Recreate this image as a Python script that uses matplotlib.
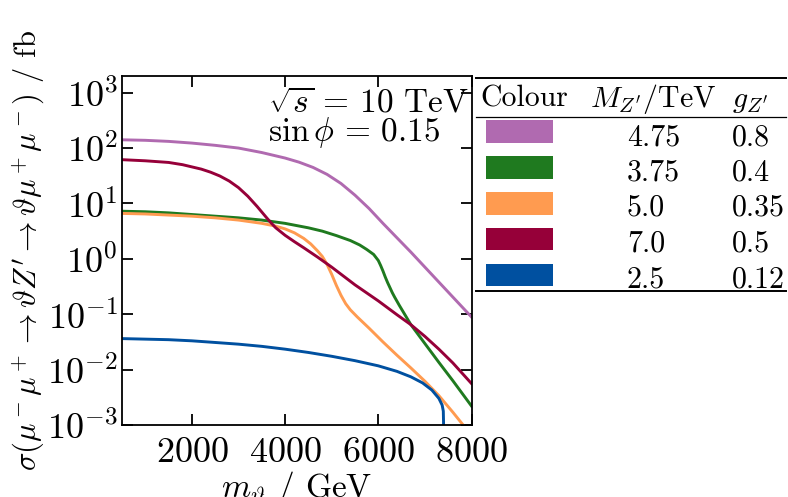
import matplotlib
matplotlib.use('Agg')
import matplotlib.pyplot as plt
from matplotlib.patches import Rectangle

plt.rcParams['font.family'] = ['cmr10']
plt.rcParams['mathtext.fontset'] = 'cm'
plt.rcParams['axes.formatter.use_mathtext'] = True
plt.rcParams['font.size'] = 26

# cross sections in fb vs scalar mass in GeV
m_purple = [500, 1000, 1500, 2000, 2500, 3000, 3500, 4000, 4300, 4600, 4900, 5200, 5500, 5800,
            6100, 6400, 6700, 7000, 7300, 7600, 8000]
s_purple = [141, 138, 132, 123, 112, 100, 83, 66, 55.6, 44.7, 33.5, 22.9, 14.1, 8.13,
            4.37, 2.40, 1.32, 0.708, 0.380, 0.204, 0.0891]

m_green = [500, 1000, 1500, 2000, 2500, 3000, 3500, 4000, 4500, 4800, 5100, 5400, 5600, 5750,
           5900, 6000, 6050, 6100, 6150, 6200, 6250, 6300, 6350, 6450, 6550, 6700, 7000, 7300,
           7600, 8000]
s_green = [7.24, 7.08, 6.76, 6.31, 5.89, 5.50, 5.01, 4.37, 3.63, 3.16, 2.63, 2.14, 1.78, 1.48,
           1.20, 0.933, 0.759, 0.603, 0.468, 0.372, 0.302, 0.245, 0.204, 0.145, 0.105, 0.0646,
           0.0295, 0.0135, 0.0063, 0.0022]

m_orange = [500, 1000, 1500, 2000, 2500, 3000, 3500, 3800, 4000, 4200, 4400, 4550, 4700, 4800,
            4900, 5000, 5100, 5200, 5300, 5400, 5550, 5800, 6100, 6400, 6700, 7000, 7300,
            7600, 7800, 8000]
s_orange = [6.61, 6.46, 6.17, 5.89, 5.50, 5.01, 4.37, 3.89, 3.47, 2.95, 2.34, 1.86, 1.38, 1.10,
            0.794, 0.525, 0.331, 0.219, 0.155, 0.120, 0.0891, 0.0562, 0.0316, 0.0182, 0.0107,
            0.00617, 0.00339, 0.0017, 0.00105, 0.00063]

m_maroon = [500, 1000, 1500, 1800, 2000, 2200, 2400, 2600, 2800, 3000, 3200, 3400, 3600, 3700,
            3800, 4000, 4200, 4400, 4700, 5000, 5500, 6000, 6400, 6700, 7000, 7300, 7600, 8000]
s_maroon = [61.7, 58.9, 55, 50.1, 45.7, 41.7, 36.7, 31.3, 25.4, 19.3, 13.5, 8.81, 5.56, 4.45,
            3.63, 2.66, 2.04, 1.585, 1.07, 0.708, 0.339, 0.174, 0.098, 0.0646, 0.0398, 0.0234,
            0.0132, 0.0056]

m_blue = [500, 1000, 1500, 2000, 2500, 3000, 3500, 4000, 4500, 5000, 5500, 6000, 6400, 6700,
          6950, 7150, 7300, 7370, 7395, 7400, 7405]
s_blue = [0.0363, 0.0355, 0.0347, 0.0331, 0.0309, 0.0288, 0.0263, 0.0234, 0.0204, 0.0174,
          0.0145, 0.0117, 0.0093, 0.0074, 0.00575, 0.00427, 0.00302, 0.00229, 0.00178,
          0.00112, 0.00032]

colours = ['#b06ab0', '#1f7a1f', '#ff9b50', '#960039', '#0050a0']
mass_zp = ['4.75', '3.75', '5.0', '7.0', '2.5']
coupling_zp = ['0.8', '0.4', '0.35', '0.5', '0.12']

curves = [(m_purple, s_purple), (m_green, s_green), (m_orange, s_orange),
          (m_maroon, s_maroon), (m_blue, s_blue)]

fig = plt.figure(figsize=(7.88, 4.97), dpi=100)
ax = fig.add_axes([122 / 788, 1 - 425 / 497, 349.5 / 788, 349 / 497])

for (m, s), c in zip(curves, colours):
    ax.plot(m, s, color=c, lw=2.1)

ax.set_yscale('log')
ax.set_xlim(500, 8000)
ax.set_ylim(1e-3, 2e3)
ax.set_xticks([2000, 4000, 6000, 8000])
ax.set_yticks([1e-3, 1e-2, 1e-1, 1e0, 1e1, 1e2, 1e3])
ax.minorticks_off()
ax.tick_params(direction='in', length=8, width=1.3, top=True, right=True)
ax.tick_params(axis='x', pad=9)
ax.tick_params(axis='y', pad=3)
for sp in ax.spines.values():
    sp.set_linewidth(1.3)

ax.set_xlabel(r"$m_\vartheta$ / GeV", fontsize=24)
ax.set_ylabel(r"$\sigma(\mu^-\mu^+ \rightarrow \vartheta Z' \rightarrow \vartheta\mu^+\mu^-)$ / fb",
              fontsize=22)
ax.xaxis.set_label_coords(0.5, -0.125)
ax.yaxis.set_label_coords(-0.215, 0.5)

ax.text(0.418, 0.898, r"$\sqrt{s}\,=\,10$ TeV", transform=ax.transAxes,
        va='baseline', ha='left', fontsize=24)
ax.text(0.418, 0.814, r"$\sin\phi\,=\,0.15$", transform=ax.transAxes,
        va='baseline', ha='left', fontsize=24)

# parameter table on the right
tab = fig.add_axes([476 / 788, 1 - 293 / 497, 310 / 788, 217 / 497])
tab.set_xlim(0, 310)
tab.set_ylim(217, 0)
tab.axis('off')

tab.plot([0, 310], [2.3, 2.3], color='k', lw=1.4, clip_on=False)
tab.plot([0, 310], [41.3, 41.3], color='k', lw=0.9, clip_on=False)
tab.plot([0, 310], [215, 215], color='k', lw=1.4, clip_on=False)

fs_tab = 21.5
tab.text(4, 30.7, "Colour", va='baseline', ha='left', fontsize=fs_tab)
tab.text(114, 30.7, r"$M_{Z'}/\mathrm{TeV}$", va='baseline', ha='left', fontsize=fs_tab)
tab.text(256, 30.7, r"$g_{Z'}$", va='baseline', ha='left', fontsize=fs_tab)

for i, (c, mz, gz) in enumerate(zip(colours, mass_zp, coupling_zp)):
    top = 44 + 35.9 * i
    tab.add_patch(Rectangle((10, top), 67, 22.7, color=c, lw=0))
    tab.text(151, 69 + 35.5 * i, mz, va='baseline', ha='left', fontsize=fs_tab)
    tab.text(256, 69 + 35.5 * i, gz, va='baseline', ha='left', fontsize=fs_tab)

fig.savefig('out.png', dpi=100)
